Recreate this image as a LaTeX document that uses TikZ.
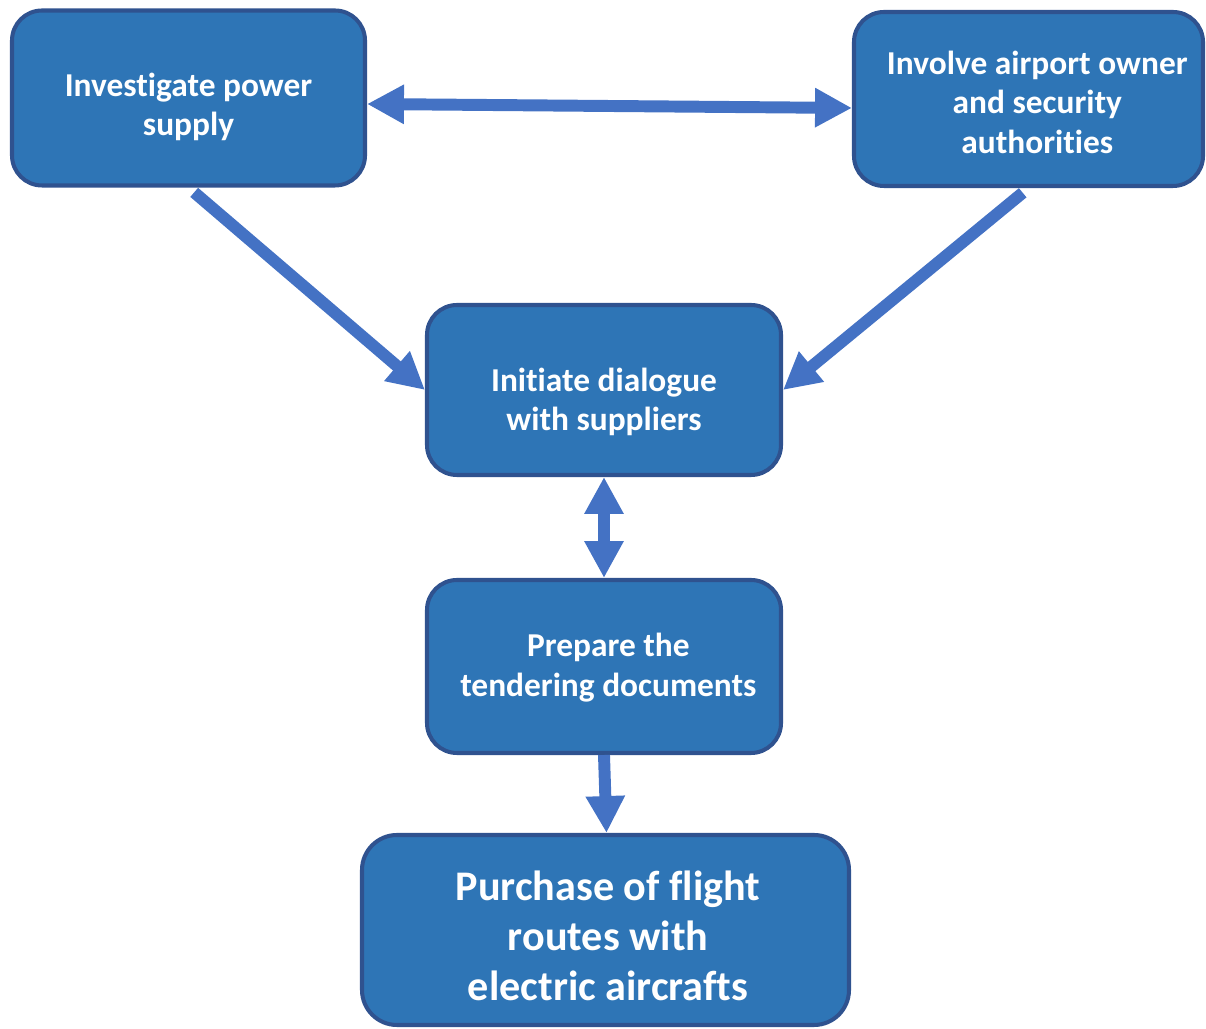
\documentclass[tikz,border=0pt]{standalone}
\usepackage{fontspec}
\setmainfont{Carlito}[Ligatures=NoCommon]
\usetikzlibrary{arrows.meta}
\definecolor{boxfill}{HTML}{2E75B6}
\definecolor{boxline}{HTML}{2F528F}
\definecolor{arrowblue}{HTML}{4472C4}
% text lines of a box, lowered by #1 without moving the box
\newcommand{\steptext}[2]{\raisebox{#1}[\height][\depth]{\begin{tabular}{@{}c@{}}#2\end{tabular}}}
\begin{document}
\begin{tikzpicture}[
        stepbox/.style={draw=boxline, line width=2.3pt, fill=boxfill, rounded corners=0.6cm,
                text=white, font=\bfseries\fontsize{19}{22.7}\selectfont,
                minimum width=7.06cm, minimum height=3.5cm, inner sep=0pt},
        flow/.style={draw=arrowblue, line width=6.8pt, -{Triangle[width=21pt,length=21pt]}},
        twoway/.style={flow, {Triangle[width=21pt,length=21pt]}-{Triangle[width=21pt,length=21pt]}}
        ]
        \useasboundingbox (0,0) rectangle (24.12,20.58);
        \node[stepbox] (power) at (3.77,18.62) {\steptext{-5.7pt}{Investigate power\\supply}};
        \node[stepbox, minimum width=6.98cm, minimum height=3.48cm] (owner) at (20.57,18.60) {\hspace*{10pt}\steptext{-4pt}{Involve airport owner\\and security\\authorities}};
        \node[stepbox, minimum width=7.08cm, minimum height=3.40cm] (dialogue) at (12.08,12.78) {\steptext{-7.4pt}{Initiate dialogue\\with suppliers}};
        \node[stepbox, minimum width=7.08cm, minimum height=3.46cm] (tender) at (12.08,7.25) {\hspace*{5pt}\steptext{-1.4pt}{Prepare the\\tendering documents}};
        \node[stepbox, minimum width=9.74cm, minimum height=3.80cm, rounded corners=0.7cm,
                font=\bfseries\fontsize{24}{28.3}\selectfont] (purchase) at (12.11,1.98) {\hspace*{3pt}\steptext{-6pt}{Purchase of flight\\routes with\\electric aircrafts}};
        \draw[twoway] ([yshift=-0.12cm]power.east) -- ([yshift=-0.18cm]owner.west);
        \draw[flow, shorten <=0.15cm] (power.south) -- (dialogue.west);
        \draw[flow, shorten <=0.15cm] (owner.south) -- (dialogue.east);
        \draw[twoway] (dialogue.south) -- (tender.north);
        \draw[flow] (tender.south) -- ([xshift=0.02cm]purchase.north);
        \end{tikzpicture}
\end{document}
